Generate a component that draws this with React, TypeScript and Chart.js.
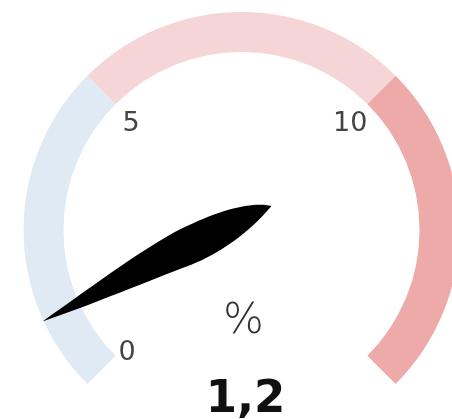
import React, { useEffect, useRef } from "react";
import { Chart, registerables } from "chart.js";

Chart.register(...registerables);

const bandLabels = ["0–5", "5–10", "10–15"];
const bandSizes = [5, 5, 5];
const bandColors = ["#dfeaf5", "#f6d5d6", "#eea9a9"];
const tickValues = [0, 5, 10];
const tickLabels = ["0", "5", "10"];
const gaugeValue = 1.2;
const valueLabel = "1,2";
const unitLabel = "%";

const gaugePlugin = {
  id: "gaugeExtras",
  afterDatasetsDraw(chart: any) {
    const meta = chart.getDatasetMeta(0);
    const arcs = meta.data;
    if (!arcs.length) return;
    const first = arcs[0];
    const last = arcs[arcs.length - 1];
    const cx = first.x;
    const cy = first.y;
    const outer = first.outerRadius;
    const inner = first.innerRadius;
    const start = first.startAngle;
    const end = last.endAngle;
    const total = bandSizes.reduce((a, b) => a + b, 0);
    const angleOf = (v: number) => start + (v / total) * (end - start);
    const ctx = chart.ctx;

    // tick labels
    ctx.save();
    ctx.fillStyle = "#444";
    ctx.font = "27px 'DejaVu Sans'";
    tickValues.forEach((v, i) => {
      const a = angleOf(v);
      const px = cx + inner * Math.cos(a);
      const py = cy + inner * Math.sin(a);
      const left = px < cx;
      const above = py < cy;
      ctx.textAlign = left ? "left" : "right";
      ctx.textBaseline = above ? "top" : "middle";
      const dx = left ? (above ? 7 : 3) : 0;
      const dy = above ? 6 : -3;
      ctx.fillText(tickLabels[i], px + dx, py + dy);
    });
    ctx.restore();

    // unit + value text
    ctx.save();
    ctx.fillStyle = "#333";
    ctx.textAlign = "center";
    ctx.textBaseline = "alphabetic";
    ctx.font = "300 43px 'DejaVu Sans'";
    ctx.fillText(unitLabel, cx + 2, cy + 103);
    ctx.fillStyle = "#111";
    ctx.font = "bold 45px 'DejaVu Sans'";
    ctx.fillText(valueLabel, cx + 4, cy + 182);
    ctx.restore();

    // needle
    const a = angleOf(gaugeValue);
    const k = outer / 218;
    ctx.save();
    ctx.translate(cx, cy);
    ctx.rotate(a);
    ctx.scale(k, k);
    ctx.beginPath();
    ctx.moveTo(-37, 10);
    ctx.bezierCurveTo(-20, 23, 15, 27, 55, 25);
    ctx.bezierCurveTo(100, 22, 170, 5, 219, -5);
    ctx.bezierCurveTo(170, -9, 100, -10, 60, -12);
    ctx.bezierCurveTo(30, -13, -5, -6, -37, 10);
    ctx.closePath();
    ctx.fillStyle = "#000";
    ctx.fill();
    ctx.restore();
  },
};

export default function App() {
  const canvasRef = useRef<HTMLCanvasElement | null>(null);

  useEffect(() => {
    if (!canvasRef.current) return;
    const chart = new Chart(canvasRef.current, {
      type: "doughnut",
      data: {
        labels: bandLabels,
        datasets: [
          {
            data: bandSizes,
            backgroundColor: bandColors,
            borderWidth: 0,
            hoverOffset: 0,
          },
        ],
      },
      options: {
        animation: false,
        responsive: false,
        rotation: -135,
        circumference: 270,
        cutout: "81.7%",
        layout: { padding: { left: 23.5, right: 23.5, top: 12, bottom: 35 } },
        plugins: {
          legend: { display: false },
          tooltip: { enabled: false },
        },
        events: [],
      },
      plugins: [gaugePlugin],
    });
    return () => chart.destroy();
  }, []);

  return (
    <div
      style={{
        position: "fixed",
        left: 0,
        top: 0,
        width: 452,
        height: 419,
        overflow: "hidden",
        background: "#fff",
      }}
    >
      <canvas
        ref={canvasRef}
        width={483}
        height={419}
        style={{ width: 483, height: 419, display: "block" }}
      />
    </div>
  );
}
